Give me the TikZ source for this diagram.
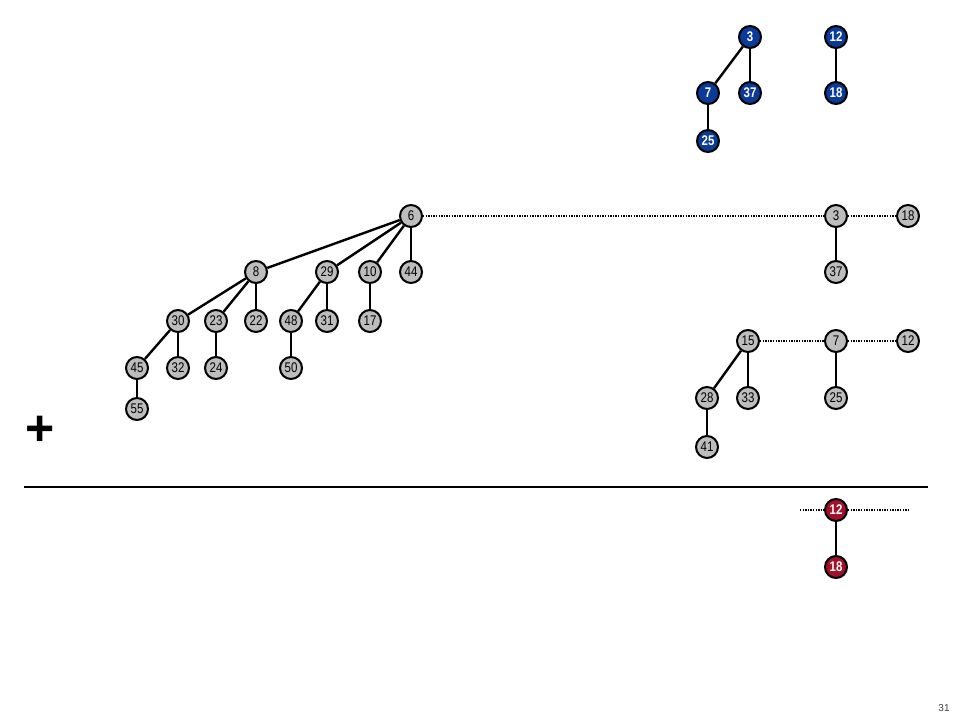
\documentclass[tikz,border=0pt]{standalone}
\usepackage{fontspec}
\setmainfont{Liberation Sans}
\newfontfamily\narrowfont[FakeStretch=0.82]{Liberation Sans}
\definecolor{nodegray}{HTML}{BDBDBD}
\definecolor{nodeblue}{HTML}{0B3A98}
\definecolor{nodered}{HTML}{A3102B}
\begin{document}
\begin{tikzpicture}[x=1pt,y=-1pt,
  basenode/.style={circle,draw=black,line width=2pt,minimum size=22pt,inner sep=0pt,font=\narrowfont\fontsize{14}{14}\selectfont},
  gnode/.style={basenode,fill=nodegray},
  bnode/.style={basenode,fill=nodeblue,text=white,font=\narrowfont\fontsize{14}{14}\selectfont\bfseries},
  rnode/.style={basenode,fill=nodered,text=white,font=\narrowfont\fontsize{14}{14}\selectfont\bfseries},
  edge/.style={line width=2.4pt},
  link/.style={line width=1.5pt,dash pattern=on 1.3pt off 1.3pt}]
\useasboundingbox (0,0) rectangle (960,720);
% blue trees
\node[bnode] (b3) at (750,37) {3};
\node[bnode] (b12) at (836,37) {12};
\node[bnode] (b7) at (708,93) {7};
\node[bnode] (b37) at (750,93) {37};
\node[bnode] (b18) at (836,93) {18};
\node[bnode] (b25) at (708,141) {25};
\draw[edge] (b3) -- (b7);
\draw[edge] (b3) -- (b37);
\draw[edge] (b7) -- (b25);
\draw[edge] (b12) -- (b18);
% big gray tree
\node[gnode] (g6) at (411,216) {6};
\node[gnode] (g8) at (256,272) {8};
\node[gnode] (g29) at (327,272) {29};
\node[gnode] (g10) at (370,272) {10};
\node[gnode] (g44) at (411,272) {44};
\node[gnode] (g30) at (178,321) {30};
\node[gnode] (g23) at (216,321) {23};
\node[gnode] (g22) at (256,321) {22};
\node[gnode] (g48) at (291,321) {48};
\node[gnode] (g31) at (327,321) {31};
\node[gnode] (g17) at (370,321) {17};
\node[gnode] (g45) at (137,368) {45};
\node[gnode] (g32) at (178,368) {32};
\node[gnode] (g24) at (216,368) {24};
\node[gnode] (g50) at (291,368) {50};
\node[gnode] (g55) at (137,409) {55};
\foreach \a/\b in {g6/g8,g6/g29,g6/g10,g6/g44,g8/g30,g8/g23,g8/g22,g29/g48,g29/g31,g10/g17,g30/g45,g30/g32,g23/g24,g48/g50,g45/g55}
  \draw[edge] (\a) -- (\b);
% right gray trees
\node[gnode] (g3) at (836,216) {3};
\node[gnode] (g18) at (908,216) {18};
\node[gnode] (g37) at (836,272) {37};
\node[gnode] (g15) at (748,341) {15};
\node[gnode] (g7) at (836,341) {7};
\node[gnode] (g12) at (908,341) {12};
\node[gnode] (g28) at (707,398) {28};
\node[gnode] (g33) at (748,398) {33};
\node[gnode] (g25) at (836,398) {25};
\node[gnode] (g41) at (707,447) {41};
\foreach \a/\b in {g3/g37,g15/g28,g15/g33,g7/g25,g28/g41}
  \draw[edge] (\a) -- (\b);
\draw[link] (g6) -- (g3);
\draw[link] (g3) -- (g18);
\draw[link] (g15) -- (g7);
\draw[link] (g7) -- (g12);
% plus and rule
\node[font=\fontsize{50}{50}\selectfont\bfseries] (plus) at (40,431) {+};
\coordinate (ruleL) at (24,487);
\coordinate (ruleR) at (928,487);
\draw[line width=2.8pt] (ruleL) -- (ruleR);
% red tree
\node[rnode] (r12) at (836,510) {12};
\node[rnode] (r18) at (836,567) {18};
\coordinate (rl) at (800,510);
\coordinate (rr) at (910,510);
\draw[edge] (r12) -- (r18);
\draw[link] (rl) -- (r12);
\draw[link] (r12) -- (rr);
\node[font=\fontsize{10}{10}\selectfont,text=black!75] (pg) at (944,708) {31};
\end{tikzpicture}
\end{document}
